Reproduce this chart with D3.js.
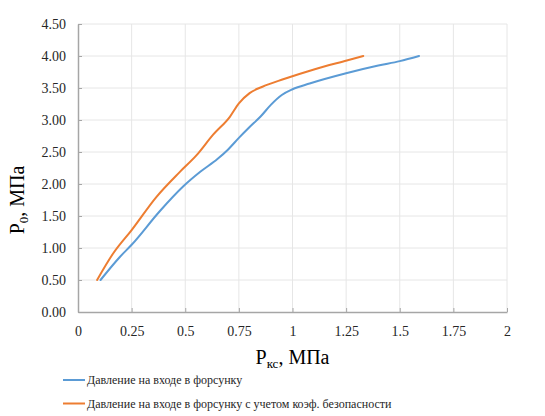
<!DOCTYPE html>
<html>
<head>
<meta charset="utf-8">
<script src="https://cdn.jsdelivr.net/npm/d3@7"></script>
<style>
  body { margin: 0; background: #fff; }
  svg text { font-family: "Liberation Serif", "Times New Roman", serif; }
</style>
</head>
<body>
<svg id="chart" width="545" height="416"></svg>
<script>
// values
var xTicks = [0, 0.25, 0.5, 0.75, 1, 1.25, 1.5, 1.75, 2];
var yTicks = [0, 0.5, 1, 1.5, 2, 2.5, 3, 3.5, 4, 4.5];

var blueX = [0.105, 0.195, 0.25, 0.38, 0.49, 0.57, 0.65, 0.70, 0.75, 0.80, 0.85, 0.90, 0.95, 1.00, 1.08, 1.25, 1.40, 1.50, 1.59];
var blueY = [0.50, 0.86, 1.05, 1.57, 1.96, 2.19, 2.39, 2.54, 2.72, 2.89, 3.05, 3.24, 3.39, 3.48, 3.57, 3.73, 3.85, 3.92, 4.00];

var orangeX = [0.089, 0.163, 0.25, 0.366, 0.475, 0.553, 0.63, 0.708, 0.75, 0.80, 0.86, 0.96, 1.10, 1.253, 1.33];
var orangeY = [0.50, 0.91, 1.28, 1.80, 2.19, 2.45, 2.77, 3.05, 3.26, 3.42, 3.52, 3.64, 3.79, 3.93, 4.00];

var seriesNames = ["Давление на входе в форсунку",
                   "Давление на входе в форсунку с учетом коэф. безопасности"];
var seriesColors = ["#5b9bd5", "#ed7d31"];

var serif = '"Liberation Serif", "Times New Roman", serif';

var margin = {left: 78, top: 24, right: 38, bottom: 104};
var width = 545, height = 416;

var svg = d3.select("#chart");

var x = d3.scaleLinear().domain([0, 2]).range([margin.left, width - margin.right]);
var y = d3.scaleLinear().domain([0, 4.5]).range([height - margin.bottom, margin.top]);

// gridlines
svg.append("g")
  .selectAll("line")
  .data(xTicks.slice(1))
  .enter().append("line")
  .attr("x1", function(d) { return x(d); })
  .attr("x2", function(d) { return x(d); })
  .attr("y1", y(0))
  .attr("y2", y(4.5))
  .attr("stroke", "#e6e6e6")
  .attr("stroke-width", 1);

svg.append("g")
  .selectAll("line")
  .data(yTicks.slice(1))
  .enter().append("line")
  .attr("x1", x(0))
  .attr("x2", x(2))
  .attr("y1", function(d) { return y(d); })
  .attr("y2", function(d) { return y(d); })
  .attr("stroke", "#e6e6e6")
  .attr("stroke-width", 1);

// axes
var xAxis = d3.axisBottom(x).tickValues(xTicks).tickSizeInner(-4).tickSizeOuter(0)
  .tickPadding(14).tickFormat(function(d) { return String(d); });
var yAxis = d3.axisLeft(y).tickValues(yTicks).tickSizeInner(-4).tickSizeOuter(0)
  .tickPadding(12).tickFormat(d3.format(".2f"));

var gx = svg.append("g").attr("transform", "translate(0," + y(0) + ")").call(xAxis);
var gy = svg.append("g").attr("transform", "translate(" + x(0) + ",0)").call(yAxis);

[gx, gy].forEach(function(g) {
  g.attr("font-family", null);
  g.select(".domain").attr("stroke", "#a6a6a6").attr("stroke-width", 1.5);
  g.selectAll(".tick line").attr("stroke", "#a6a6a6").attr("stroke-width", 1);
  g.selectAll(".tick text")
    .style("font-family", serif)
    .style("font-size", "14px")
    .attr("fill", "#262626");
});

// lines
var line = d3.line()
  .x(function(d) { return x(d[0]); })
  .y(function(d) { return y(d[1]); })
  .curve(d3.curveMonotoneX);

var series = [d3.zip(blueX, blueY), d3.zip(orangeX, orangeY)];

svg.append("g")
  .selectAll("path")
  .data(series)
  .enter().append("path")
  .attr("d", line)
  .attr("fill", "none")
  .attr("stroke", function(d, i) { return seriesColors[i]; })
  .attr("stroke-width", 2)
  .attr("stroke-linecap", "round");

// axis titles
var xt = svg.append("text")
  .attr("x", (x(0) + x(2)) / 2)
  .attr("y", 364)
  .attr("text-anchor", "middle")
  .style("font-family", serif)
  .style("font-size", "20px")
  .attr("fill", "#000");
xt.append("tspan").text("P");
xt.append("tspan").style("font-size", "13px").attr("dy", 4).text("кс");
xt.append("tspan").attr("dy", -4).text(", МПа");

var yt = svg.append("text")
  .attr("transform", "translate(24,200) rotate(-90)")
  .attr("text-anchor", "middle")
  .style("font-family", serif)
  .style("font-size", "20px")
  .attr("fill", "#000");
yt.append("tspan").text("P");
yt.append("tspan").style("font-size", "13px").attr("dy", 4).text("0");
yt.append("tspan").attr("dy", -4).text(", МПа");

// legend
var legend = svg.append("g")
  .selectAll("g")
  .data(seriesNames)
  .enter().append("g")
  .attr("transform", function(d, i) { return "translate(63," + (380 + i * 23.5) + ")"; });

legend.append("line")
  .attr("x1", 0).attr("x2", 22)
  .attr("stroke", function(d, i) { return seriesColors[i]; })
  .attr("stroke-width", 2);

legend.append("text")
  .attr("x", 24)
  .attr("y", 4)
  .style("font-family", serif)
  .style("font-size", "12px")
  .attr("fill", "#262626")
  .text(function(d) { return d; });
</script>
</body>
</html>
